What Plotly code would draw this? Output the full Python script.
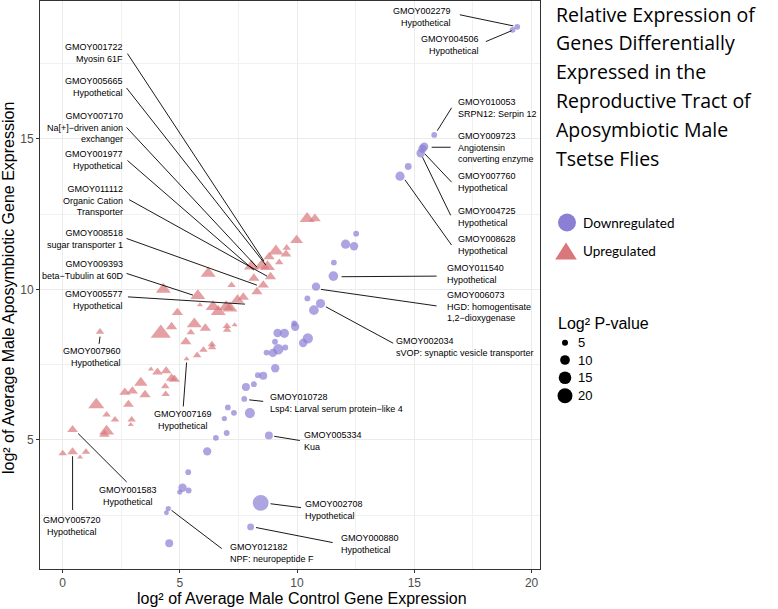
import numpy as np
import plotly.graph_objects as go

# ---------------- data ----------------
# Downregulated genes (circles): log2 control, log2 aposymbiotic, log2 P-value
down_x = [19.39, 19.19, 15.85, 15.42, 15.35, 15.27, 14.74, 14.39, 12.52, 12.07,
          12.43, 11.57, 11.55, 10.81, 10.44, 11.00, 10.72, 9.88, 9.92, 9.17,
          9.46, 9.06, 10.46, 10.26, 9.20, 9.50, 8.97, 8.70, 9.07, 8.33,
          8.56, 7.82, 8.16, 7.75, 7.05, 7.31, 7.99, 6.90, 7.00, 6.54,
          8.80, 6.17, 5.36, 5.12, 5.00, 5.38, 8.45, 4.51, 4.43, 8.02, 4.55]
down_y = [18.72, 18.62, 15.13, 14.74, 14.67, 14.52, 14.08, 13.76, 11.85, 11.50,
          11.43, 10.89, 10.44, 10.09, 9.70, 9.53, 9.31, 8.87, 8.76, 8.55,
          8.54, 8.26, 8.37, 8.22, 8.01, 8.07, 7.89, 7.90, 7.38, 7.15,
          7.13, 6.76, 6.85, 6.36, 6.08, 5.90, 5.89, 5.71, 5.23, 5.07,
          5.15, 4.62, 3.93, 3.41, 3.27, 3.32, 2.91, 2.72, 2.58, 2.11, 1.57]
down_p = [4.8, 4.8, 4.8, 8, 8, 8, 6, 9.2, 4.8, 9.2,
          8, 4.8, 9.9, 8, 4.8, 9.2, 9.9, 4.8, 8, 8,
          9.2, 4.8, 11, 8, 11, 4.8, 8, 4.8, 8, 4.8,
          7.4, 7.4, 4.8, 4.8, 4.8, 4.8, 10.5, 4.2, 4.8, 4.8,
          7.4, 8, 4.8, 8, 4.2, 4.8, 22, 4.2, 3.8, 6, 7.4]

# Upregulated genes (triangles)
up_x = [10.43, 10.76, 9.98, 9.10, 9.56, 9.53, 8.81, 9.24, 8.06, 8.50,
        8.74, 8.87, 8.16, 8.56, 8.29, 7.21, 6.21, 4.30, 5.77, 5.86,
        6.42, 6.98, 7.46, 7.71, 7.14, 6.64, 4.90, 5.62, 4.65, 4.19,
        6.09, 7.01, 7.34, 7.02, 5.47, 5.26, 6.37, 6.38, 6.01, 5.74,
        5.29, 1.60, 3.77, 4.05, 4.42, 4.65, 4.77, 3.34, 4.38, 2.98,
        2.66, 3.52, 4.40, 1.44, 2.81, 1.88, 2.24, 2.95, 2.91, 1.88,
        1.79, 0.43, 0.01, 0.43, 0.75, 1.00]
up_y = [12.35, 12.35, 11.63, 11.27, 11.38, 11.17, 11.08, 10.90, 10.77, 10.79,
        10.75, 10.42, 10.37, 10.14, 9.92, 10.14, 10.53, 10.00, 9.79, 9.48,
        9.42, 9.42, 9.65, 9.74, 9.37, 9.26, 9.23, 8.85, 8.76, 8.54,
        8.71, 8.78, 8.82, 8.65, 8.57, 8.26, 8.17, 8.07, 7.99, 7.81,
        7.69, 8.59, 7.35, 7.25, 7.29, 7.05, 7.01, 6.90, 6.78, 6.62,
        6.58, 6.50, 6.52, 6.17, 6.18, 5.84, 5.67, 5.67, 5.51, 5.29,
        5.18, 5.34, 4.55, 4.60, 4.43, 4.60]
up_p = [12.4, 8.6, 9.9, 12.4, 5.4, 7.4, 8, 5.4, 12.4, 12.4,
        12.4, 8, 8, 8, 8, 5.4, 12.4, 12.4, 12.4, 3.5,
        12.4, 12.4, 9.9, 8, 12.4, 12.4, 8, 12.4, 8, 20,
        8, 5.4, 3.5, 5.4, 5.4, 8, 5.4, 5.4, 5.4, 5.4,
        3.5, 5.4, 3.5, 7.4, 7.4, 8, 8, 10.5, 5.4, 8,
        8, 8, 5.4, 13.7, 7.4, 5.4, 5.4, 5.4, 3.5, 12.4,
        7.4, 7.4, 5.4, 7.4, 3.5, 5.4]

size_breaks = [5, 10, 15, 20]

title_lines = ["Relative Expression of", "Genes Differentially", "Expressed in the",
               "Reproductive Tract of", "Aposymbiotic Male", "Tsetse Flies"]

# gene labels: text, text x, text y, alignment, segment start, segment end
gene_labels = [
    ("GMOY001722<br>Myosin 61F", 2.66, 17.85, "right", (2.77, 17.83), (8.59, 10.94)),
    ("GMOY005665<br>Hypothetical", 2.66, 16.72, "right", (2.73, 16.69), (8.67, 10.81)),
    ("GMOY007170<br>Na[+]−driven anion<br>exchanger", 2.66, 15.38, "right", (2.73, 15.38), (8.29, 10.74)),
    ("GMOY001977<br>Hypothetical", 2.66, 14.30, "right", (2.77, 14.28), (8.16, 10.64)),
    ("GMOY011112<br>Organic Cation<br>Transporter", 2.66, 12.94, "right", (2.84, 12.98), (8.72, 10.44)),
    ("GMOY008518<br>sugar transporter 1", 2.66, 11.68, "right", (2.73, 11.69), (8.29, 10.14)),
    ("GMOY009393<br>beta−Tubulin at 60D", 2.66, 10.65, "right", (2.73, 10.53), (5.56, 9.81)),
    ("GMOY005577<br>Hypothetical", 2.66, 9.66, "right", (2.79, 9.75), (7.78, 9.51)),
    ("GMOY007960<br>Hypothetical", 2.59, 7.77, "right", (1.56, 8.19), (1.60, 8.43)),
    ("GMOY010053<br>SRPN12: Serpin 12", 16.76, 16.03, "left", (16.59, 16.03), (15.98, 15.27)),
    ("GMOY009723<br>Angiotensin<br>converting enzyme", 16.76, 14.72, "left", (16.55, 14.72), (15.74, 14.72)),
    ("GMOY007760<br>Hypothetical", 16.76, 13.58, "left", (16.59, 13.56), (15.45, 14.50)),
    ("GMOY004725<br>Hypothetical", 16.76, 12.42, "left", (16.55, 12.46), (15.35, 14.39)),
    ("GMOY008628<br>Hypothetical", 16.76, 11.48, "left", (16.59, 11.47), (14.60, 13.64)),
    ("GMOY011540<br>Hypothetical", 16.30, 10.51, "left", (15.95, 10.44), (11.90, 10.42)),
    ("GMOY006073<br>HGD: homogentisate<br>1,2−dioxygenase", 16.30, 9.42, "left", (15.95, 9.45), (11.02, 10.00)),
    ("GMOY002034<br>sVOP: synaptic vesicle transporter", 14.13, 8.08, "left", (14.10, 8.21), (11.23, 9.42)),
    ("GMOY010728<br>Lsp4: Larval serum protein−like 4", 8.75, 6.21, "left", (8.56, 6.28), (7.96, 6.33)),
    ("GMOY005334<br>Kua", 10.20, 4.97, "left", (10.12, 4.98), (9.03, 5.12)),
    ("GMOY002708<br>Hypothetical", 10.26, 2.67, "left", (10.17, 2.75), (8.87, 2.88)),
    ("GMOY000880<br>Hypothetical", 11.79, 1.55, "left", (11.52, 1.59), (8.25, 2.09)),
    ("GMOY012182<br>NPF: neuropeptide F", 7.04, 1.25, "left", (6.79, 1.39), (4.65, 2.66)),
    ("GMOY002279<br>Hypothetical", 16.66, 19.04, "right", (16.94, 19.12), (19.22, 18.75)),
    ("GMOY004506<br>Hypothetical", 17.84, 18.12, "right", (18.05, 18.23), (19.15, 18.59)),
    ("GMOY007169<br>Hypothetical", 5.15, 5.65, "center", (5.15, 6.11), (5.29, 7.57)),
    ("GMOY001583<br>Hypothetical", 2.78, 3.15, "center", (2.74, 3.60), (0.67, 5.21)),
    ("GMOY005720<br>Hypothetical", 0.39, 2.15, "center", (0.43, 2.67), (0.43, 4.46)),
]

# ---------------- styling ----------------
PURPLE = "#8a7fd4"
SALMON = "#d9777a"
FONT = "Liberation Sans, Arial, Helvetica, sans-serif"
TFONT = "Open Sans, Lato, sans-serif"
LFONT = "Lato, sans-serif"
W, H = 778, 609
ML, MR, MT, MB = 40, 238, 1, 40
PW, PH = W - ML - MR, H - MT - MB


def diam(p):
    return 4.025 * np.sqrt(np.asarray(p, dtype=float)) - 3.0


def px(x):
    return (x - ML) / PW


def py(y):
    return (MT + PH - y) / PH


all_x = down_x + up_x
all_y = down_y + up_y
sx = max(all_x) - min(all_x)
sy = max(all_y) - min(all_y)
xr = [min(all_x) - 0.05 * sx, max(all_x) + 0.05 * sx]
yr = [min(all_y) - 0.05 * sy, max(all_y) + 0.05 * sy]

fig = go.Figure()
fig.add_trace(go.Scatter(
    x=down_x, y=down_y, mode="markers", name="Downregulated",
    marker=dict(symbol="circle", color=PURPLE, size=diam(down_p), line=dict(width=0)),
    showlegend=False, hoverinfo="skip"))
fig.add_trace(go.Scatter(
    x=up_x, y=up_y, mode="markers", name="Upregulated",
    marker=dict(symbol="triangle-up", color=SALMON, size=diam(up_p) * 1.17, line=dict(width=0)),
    showlegend=False, hoverinfo="skip"))

shapes = []
annotations = []
for text, tx, ty, al, s0, s1 in gene_labels:
    annotations.append(dict(
        x=tx, y=ty, xref="x", yref="y", text=text, showarrow=False,
        xanchor=al, yanchor="middle", align=al,
        font=dict(family=FONT, size=9, color="black")))
    shapes.append(dict(type="line", xref="x", yref="y", x0=s0[0], y0=s0[1],
                       x1=s1[0], y1=s1[1], line=dict(color="black", width=0.9),
                       layer="above"))

# axis titles
annotations.append(dict(x=px(302), y=py(598), xref="paper", yref="paper",
                        text="log² of Average Male Control Gene Expression", showarrow=False,
                        xanchor="center", yanchor="middle",
                        font=dict(family=FONT, size=16, color="black")))
annotations.append(dict(x=px(9), y=py(288), xref="paper", yref="paper", textangle=-90,
                        text="log² of Average Male Aposymbiotic Gene Expression", showarrow=False,
                        xanchor="center", yanchor="middle",
                        font=dict(family=FONT, size=16, color="black")))

# title block on the right
for i, line in enumerate(title_lines):
    annotations.append(dict(x=px(554), y=py(14 + 28.8 * i), xref="paper", yref="paper",
                            text=line, showarrow=False, xanchor="left", yanchor="middle",
                            font=dict(family=TFONT, size=19.5, color="black")))

# colour legend
shapes.append(dict(type="circle", xref="paper", yref="paper", xsizemode="pixel",
                   ysizemode="pixel", xanchor=px(567), yanchor=py(222.5),
                   x0=-9, x1=9, y0=-9, y1=9, fillcolor=PURPLE, line=dict(width=0)))
shapes.append(dict(type="path", xref="paper", yref="paper", xsizemode="pixel",
                   ysizemode="pixel", xanchor=px(566), yanchor=py(251),
                   path="M -10.8 -8.5 L 10.8 -8.5 L 0 8.5 Z", fillcolor=SALMON,
                   line=dict(width=0)))
for lab, yy in [("Downregulated", 222.5), ("Upregulated", 251)]:
    annotations.append(dict(x=px(581), y=py(yy), xref="paper", yref="paper", text=lab,
                            showarrow=False, xanchor="left", yanchor="middle",
                            font=dict(family=LFONT, size=13.5, color="black")))

# size legend
annotations.append(dict(x=px(556), y=py(323.5), xref="paper", yref="paper",
                        text="Log² P-value", showarrow=False, xanchor="left", yanchor="middle",
                        font=dict(family=FONT, size=16, color="black")))
for b, yy in zip(size_breaks, [342.7, 360, 377.7, 395.7]):
    r = float(diam(b)) / 2
    shapes.append(dict(type="circle", xref="paper", yref="paper", xsizemode="pixel",
                       ysizemode="pixel", xanchor=px(565), yanchor=py(yy),
                       x0=-r, x1=r, y0=-r, y1=r, fillcolor="black", line=dict(width=0)))
    annotations.append(dict(x=px(576), y=py(yy), xref="paper", yref="paper", text=str(b),
                            showarrow=False, xanchor="left", yanchor="middle",
                            font=dict(family=FONT, size=13, color="black")))

axis_common = dict(
    showgrid=True, gridcolor="#ebebeb", gridwidth=1,
    zeroline=False, showline=True, mirror=True, linecolor="#333333", linewidth=1,
    ticks="outside", ticklen=3, tickwidth=1, tickcolor="#333333",
    tickfont=dict(family=FONT, size=12, color="#4d4d4d"),
    dtick=5, tick0=0,
    minor=dict(dtick=2.5, tick0=0, showgrid=True, gridcolor="#f1f1f1", gridwidth=0.6),
)

fig.update_layout(
    width=W, height=H,
    margin=dict(l=ML, r=MR, t=MT, b=MB),
    plot_bgcolor="white", paper_bgcolor="white",
    xaxis=dict(range=xr, **axis_common),
    yaxis=dict(range=yr, **axis_common),
    shapes=shapes, annotations=annotations,
    showlegend=False, hovermode=False,
)

fig.write_html("out.html", config={"displayModeBar": False},
               post_script="document.body.style.margin='0px';document.body.style.padding='0px';")
